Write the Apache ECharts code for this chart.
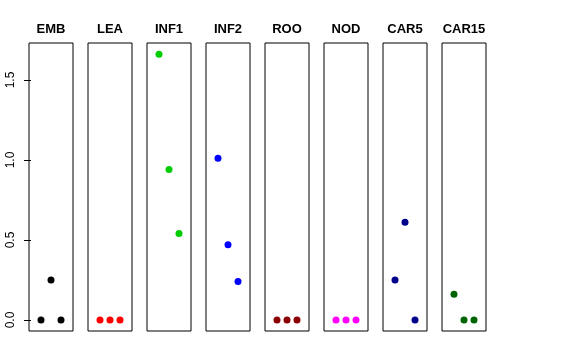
<!DOCTYPE html>
<html><head><meta charset="utf-8">
<script src="https://cdn.jsdelivr.net/npm/echarts@6/dist/echarts.min.js"></script>
<style>html,body{margin:0;padding:0;background:#fff}#c{width:576px;height:360px}</style>
</head><body><div id="c"></div>
<script>
const panels = ['EMB','LEA','INF1','INF2','ROO','NOD','CAR5','CAR15'];
const colors = ['#000000','#FF0000','#00CD00','#0000FF','#8B0000','#FF00FF','#00008B','#006400'];
const xPos = [1,2,3];
const EMB = [0, 0.25, 0];
const LEA = [0, 0, 0];
const INF1 = [1.66, 0.94, 0.54];
const INF2 = [1.01, 0.47, 0.24];
const ROO = [0, 0, 0];
const NOD = [0, 0, 0];
const CAR5 = [0.25, 0.61, 0];
const CAR15 = [0.16, 0, 0];
const values = [EMB, LEA, INF1, INF2, ROO, NOD, CAR5, CAR15];
const yTicks = [0, 0.5, 1.0, 1.5];

const font = 'Liberation Sans, Arial, sans-serif';
const grids = [], xAxes = [], yAxes = [], series = [], titles = [];
panels.forEach((name, i) => {
  const left = 29 + i * 59;
  grids.push({left: left, width: 44, top: 43, height: 288, show: true, borderColor: '#000', borderWidth: 1, backgroundColor: 'transparent'});
  xAxes.push({type: 'value', gridIndex: i, min: -0.2, max: 4.2, show: false});
  const first = i === 0;
  yAxes.push({type: 'value', gridIndex: i, min: -0.069, max: 1.731,
    show: true,
    axisLine: {show: false},
    splitLine: {show: false},
    axisTick: {show: first, length: 7, lineStyle: {color: '#000'}, customValues: yTicks},
    axisLabel: {show: first, rotate: 90, margin: 12, fontSize: 12, fontFamily: font, color: '#000',
      customValues: yTicks, formatter: v => v.toFixed(1)}
  });
  series.push({type: 'scatter', xAxisIndex: i, yAxisIndex: i, symbol: 'circle', symbolSize: 7,
    itemStyle: {color: colors[i], opacity: 1}, silent: true,
    data: xPos.map((x, k) => [x, values[i][k]])});
  titles.push({text: name, left: left + 22, top: 23, textAlign: 'center', padding: 0,
    textStyle: {fontSize: 13, fontWeight: 'bold', fontFamily: font, color: '#000'}});
});

const chart = echarts.init(document.getElementById('c'), null, {renderer: 'canvas'});
chart.setOption({animation: false, backgroundColor: '#fff', title: titles, grid: grids, xAxis: xAxes, yAxis: yAxes, series: series});
</script></body></html>
